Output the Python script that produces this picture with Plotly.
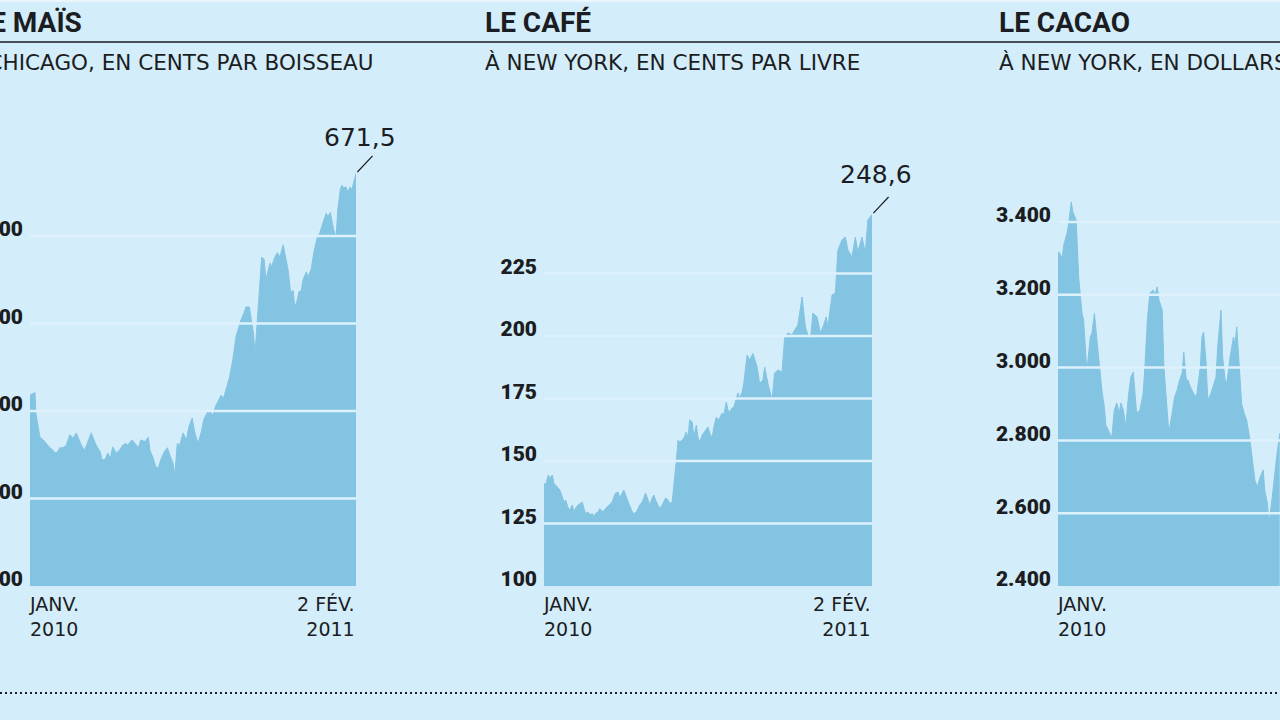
import pandas as pd
import plotly.graph_objects as go

# ---------------- data ----------------
START = pd.Timestamp("2010-01-04")
END = pd.Timestamp("2011-02-02")

titles = ["LE MAÏS", "LE CAFÉ", "LE CACAO"]
subtitles = ["À CHICAGO, EN CENTS PAR BOISSEAU",
             "À NEW YORK, EN CENTS PAR LIVRE",
             "À NEW YORK, EN DOLLARS PAR TONNE"]

# days since 4 Jan 2010
corn_day = [0, 6, 7, 10, 12, 16, 21, 24, 28, 30, 33, 36, 40, 44, 48, 52, 56, 58, 62, 66,
            70, 74, 76, 80, 85, 87, 91, 94, 97, 100, 104, 108, 112, 116, 118, 123, 127, 131, 134, 139,
            143, 145, 149, 152, 155, 158, 162, 166, 169, 173, 175, 178, 181, 185, 189, 192, 196, 199, 203, 207,
            210, 214, 218, 221, 224, 227, 231, 234, 238, 241, 245, 249, 253, 255, 259, 261, 265, 270, 272, 274,
            278, 280, 283, 285, 288, 290, 292, 296, 299, 302, 306, 308, 312, 315, 318, 320, 323, 325, 328, 330,
            334, 336, 340, 343, 347, 350, 353, 355, 358, 360, 363, 365, 367, 370, 372, 375, 377, 379, 382, 384,
            387, 389, 392, 394]
corn_val = [418, 421, 398, 382, 370, 367, 361, 358, 355, 352, 353, 358, 358, 361, 373, 369, 375, 370, 361, 355,
            365, 375, 370, 361, 353, 344, 345, 352, 346, 359, 352, 355, 361, 363, 361, 367, 363, 358, 367, 365,
            370, 355, 346, 336, 335, 344, 353, 358, 350, 340, 327, 363, 361, 375, 367, 382, 392, 376, 363, 376,
            390, 398, 399, 395, 405, 410, 418, 415, 427, 438, 458, 485, 498, 504, 513, 519, 519, 489, 466, 496,
            558, 576, 573, 550, 561, 569, 565, 576, 581, 576, 590, 581, 561, 535, 538, 518, 527, 536, 538, 550,
            559, 553, 563, 581, 598, 603, 613, 618, 626, 622, 627, 618, 607, 599, 630, 653, 658, 655, 656, 650,
            656, 653, 666, 671.5]

coffee_day = [0, 2, 5, 7, 10, 12, 16, 19, 22, 24, 26, 29, 31, 34, 36, 38, 41, 43, 46, 48,
              50, 53, 55, 58, 60, 62, 65, 67, 71, 74, 78, 82, 84, 86, 89, 91, 94, 96, 98, 101,
              103, 106, 108, 111, 113, 115, 118, 120, 122, 125, 127, 130, 132, 134, 137, 139, 142, 144, 146, 149,
              151, 154, 156, 159, 161, 163, 166, 168, 171, 173, 175, 178, 180, 183, 185, 187, 190, 192, 195, 197,
              199, 202, 204, 207, 209, 211, 214, 216, 219, 221, 223, 226, 228, 231, 233, 235, 238, 240, 244, 247,
              251, 256, 259, 263, 265, 269, 274, 277, 281, 286, 289, 293, 298, 301, 305, 310, 314, 317, 320, 323,
              328, 332, 335, 339, 341, 346, 350, 353, 358, 362, 365, 370, 374, 377, 382, 386, 389, 394]
coffee_val = [141.2, 140.4, 144.4, 143.2, 144.4, 141, 139.6, 138.4, 135.6, 133.6,
              134.4, 131.2, 130.4, 132.4, 129.6, 131.2, 132.4, 133, 133.6, 131,
              129, 129.6, 128.4, 129, 127.6, 129, 129.6, 131, 129.6, 131,
              132.4, 133.6, 135.6, 137.2, 137.6, 135.2, 137.2, 138.4, 136.4, 133.6,
              131.6, 129.6, 129, 129.6, 131, 132.4, 133.6, 135.6, 137.2, 134.4,
              132.4, 135.2, 136.4, 134.4, 132.4, 131, 132.4, 133.6, 135.2, 134.4,
              133, 133.6, 139.6, 150.4, 158.4, 157.6, 158.4, 159.2, 161.6, 159.2,
              166.4, 165.6, 159.6, 164.4, 159.2, 157.6, 160.4, 161.2, 162.4, 163.6,
              161.2, 159.2, 163.6, 167.6, 166.4, 167.2, 169.2, 168.4, 173.6, 170.4,
              169.6, 171.2, 171.6, 175.2, 177.2, 175.2, 177.6, 181.2, 192.4, 190.4,
              193, 187.6, 181, 182.4, 187.6, 181, 174.4, 185.2, 186.4, 185.6,
              199.2, 201.2, 200.4, 202.4, 204.4, 215.6, 203.6, 200.4, 198.4, 209.2,
              207.6, 201.2, 203.6, 207.6, 203.6, 216.4, 217.2, 234.4, 238.4, 239.6,
              234.4, 231.6, 239.6, 233.6, 239.6, 233.2, 246.4, 248.6]

cocoa_day = [0, 1, 5, 7, 11, 13, 16, 18, 22, 23, 25, 29, 31, 34, 35, 39, 41, 44, 47, 50,
             53, 56, 58, 59, 65, 68, 71, 74, 76, 79, 82, 85, 88, 91, 93, 95, 99, 103, 105, 108,
             111, 115, 117, 120, 122, 126, 128, 132, 134, 138, 141, 144, 147, 150, 152, 155, 157, 160, 162, 166,
             168, 172, 174, 176, 179, 181, 185, 187, 191, 193, 197, 199, 202, 204, 208, 212, 214, 216, 219, 222,
             225, 228, 232, 236, 238, 241, 244, 248, 250, 253, 255, 259, 262, 264, 268]
cocoa_val = [3309, 3318, 3301, 3337, 3370, 3397, 3455, 3427, 3405, 3332,
             3249, 3149, 3131, 3021, 2993, 3084, 3095, 3149, 3084, 3002,
             2938, 2892, 2837, 2837, 2807, 2883, 2903, 2875, 2903, 2883,
             2837, 2920, 2974, 2988, 2930, 2875, 2883, 2930, 3002, 3131,
             3205, 3213, 3200, 3222, 3186, 3158, 3002, 2875, 2820, 2875,
             2920, 2938, 2966, 2985, 3043, 2966, 2966, 2947, 2938, 2920,
             2930, 3002, 3084, 3098, 3013, 2911, 2930, 2947, 2974, 3057,
             3158, 3029, 2966, 2957, 3029, 3084, 3067, 3112, 3013, 2900,
             2875, 2856, 2801, 2727, 2690, 2672, 2697, 2719, 2660, 2628,
             2573, 2645, 2711, 2750, 2820]

corn_ticks = [200, 300, 400, 500, 600]
coffee_ticks = [100, 125, 150, 175, 200, 225]
cocoa_ticks = [2400, 2600, 2800, 3000, 3200, 3400]
cocoa_ticktext = ["2.400", "2.600", "2.800", "3.000", "3.200", "3.400"]
corn_last_label = "671,5"
coffee_last_label = "248,6"
x_start_label = "JANV.<br>2010"
x_end_label = "2 FÉV.<br>2011"

# ---------------- style ----------------
W, H = 1280, 720
BG = "#d4edfa"
FILL = "#83c4e2"
GRID = "#dcf1fc"
INK = "#1b1d22"
TICK_FONT = dict(family="Roboto", size=21, color=INK, weight=900)


def to_dates(days):
    return [START + pd.Timedelta(days=d) for d in days]


def px_x(p):
    return p / W


def px_y(p):
    return (H - p) / H


Y_DOM = [px_y(586), px_y(100)]
PLOT_H = 486
corn_range = [200, 200 + PLOT_H / 0.875]
coffee_range = [100, 100 + PLOT_H / 2.5]
cocoa_range = [2400, 2400 + PLOT_H / 0.364]
span = (END - START)
cocoa_end = START + span * ((W - 1058) / (356 - 30))

fig = go.Figure()
panels = [
    ("x", "y", corn_day, corn_val),
    ("x2", "y2", coffee_day, coffee_val),
    ("x3", "y3", cocoa_day, cocoa_val),
]
for xa, ya, d, v in panels:
    fig.add_trace(go.Scatter(x=to_dates(d), y=v, xaxis=xa, yaxis=ya, mode="lines",
                             line=dict(color=FILL, width=1), fill="tozeroy",
                             fillcolor=FILL, hoverinfo="skip", showlegend=False))

xcommon = dict(type="date", showgrid=False, zeroline=False, showticklabels=False,
               showline=False, ticks="", fixedrange=True, automargin=False)
ycommon = dict(showgrid=False, zeroline=False, showline=False, ticks="", automargin=False,
               tickfont=TICK_FONT, ticklabelshift=-7, ticklabelstandoff=6, fixedrange=True)

fig.update_layout(
    width=W, height=H, margin=dict(l=0, r=0, t=0, b=0, autoexpand=False), autosize=False,
    paper_bgcolor=BG, plot_bgcolor=BG, showlegend=False,
    xaxis=dict(xcommon, domain=[px_x(30), px_x(356)], range=[START, END], anchor="y"),
    xaxis2=dict(xcommon, domain=[px_x(544), px_x(872)], range=[START, END], anchor="y2"),
    xaxis3=dict(xcommon, domain=[px_x(1058), 1.0], range=[START, cocoa_end], anchor="y3"),
    yaxis=dict(ycommon, domain=Y_DOM, range=corn_range, tickvals=corn_ticks,
               ticktext=[str(t) for t in corn_ticks], anchor="x"),
    yaxis2=dict(ycommon, domain=Y_DOM, range=coffee_range, tickvals=coffee_ticks,
                ticktext=[str(t) for t in coffee_ticks], anchor="x2"),
    yaxis3=dict(ycommon, domain=Y_DOM, range=cocoa_range, tickvals=cocoa_ticks,
                ticktext=cocoa_ticktext, anchor="x3"),
)

shapes = []
# light grid lines drawn over the area
for xa, ticks in [("x", corn_ticks), ("x2", coffee_ticks), ("x3", cocoa_ticks)]:
    ya = xa.replace("x", "y")
    for t in ticks[1:]:
        shapes.append(dict(type="line", xref=f"{xa} domain", x0=0, x1=1, yref=ya, y0=t, y1=t,
                           line=dict(color=GRID, width=2.5), layer="above"))
# top light strip
shapes.append(dict(type="rect", xref="paper", yref="paper", x0=0, x1=1, y0=px_y(2), y1=1,
                   fillcolor="#eaf6fc", line=dict(width=0), layer="above"))
# rule under titles
shapes.append(dict(type="line", xref="paper", yref="paper", x0=0, x1=1, y0=px_y(42), y1=px_y(42),
                   line=dict(color=INK, width=1.5)))
# dotted separator at bottom
shapes.append(dict(type="line", xref="paper", yref="paper", x0=0, x1=1, y0=px_y(693), y1=px_y(693),
                   line=dict(color=INK, width=2, dash="2px,3px")))
fig.update_layout(shapes=shapes)

ann = []
TITLE_FONT = dict(family="Roboto", size=28, color=INK, weight=700)
SUB_FONT = dict(family="DejaVu Sans", size=21.5, color=INK)
XL_FONT = dict(family="DejaVu Sans", size=19, color=INK)
VAL_FONT = dict(family="DejaVu Sans", size=25, color=INK)

# titles & subtitles
ann.append(dict(text=titles[0], xref="paper", yref="paper", x=px_x(84), y=px_y(22),
                xanchor="right", yanchor="middle", showarrow=False, font=TITLE_FONT))
ann.append(dict(text=titles[1], xref="paper", yref="paper", x=px_x(483), y=px_y(22),
                xanchor="left", yanchor="middle", showarrow=False, font=TITLE_FONT))
ann.append(dict(text=titles[2], xref="paper", yref="paper", x=px_x(997), y=px_y(22),
                xanchor="left", yanchor="middle", showarrow=False, font=TITLE_FONT))
ann.append(dict(text=subtitles[0], xref="paper", yref="paper", x=px_x(375), y=px_y(62),
                xanchor="right", yanchor="middle", showarrow=False, font=SUB_FONT))
ann.append(dict(text=subtitles[1], xref="paper", yref="paper", x=px_x(483), y=px_y(62),
                xanchor="left", yanchor="middle", showarrow=False, font=SUB_FONT))
ann.append(dict(text=subtitles[2], xref="paper", yref="paper", x=px_x(997), y=px_y(62),
                xanchor="left", yanchor="middle", showarrow=False, font=SUB_FONT))

# x labels
for xa in ["x", "x2", "x3"]:
    ann.append(dict(text=x_start_label, xref=xa, yref="paper", x=START, y=px_y(591),
                    xanchor="left", yanchor="top", align="left", xshift=-3,
                    showarrow=False, font=XL_FONT))
for xa in ["x", "x2"]:
    ann.append(dict(text=x_end_label, xref=xa, yref="paper", x=END, y=px_y(591),
                    xanchor="right", yanchor="top", align="right", xshift=1,
                    showarrow=False, font=XL_FONT))

# last value labels with leader lines
for xa, ya, val, lab, ys in [("x", "y", corn_val[-1], corn_last_label, 36),
                             ("x2", "y2", coffee_val[-1], coffee_last_label, 40)]:
    ann.append(dict(text="", xref=xa, yref=ya, x=END, y=val, showarrow=True,
                    arrowhead=0, arrowwidth=1.2, arrowcolor=INK, ax=18, ay=-19, standoff=2))
    ann.append(dict(text=lab, xref=xa, yref=ya, x=END, y=val, xanchor="center",
                    yanchor="middle", xshift=4, yshift=ys, showarrow=False, font=VAL_FONT))

fig.update_layout(annotations=ann)
fig.write_html("out.html", config={"displayModeBar": False},
               post_script="document.body.style.margin='0';document.body.style.overflow='hidden';")
